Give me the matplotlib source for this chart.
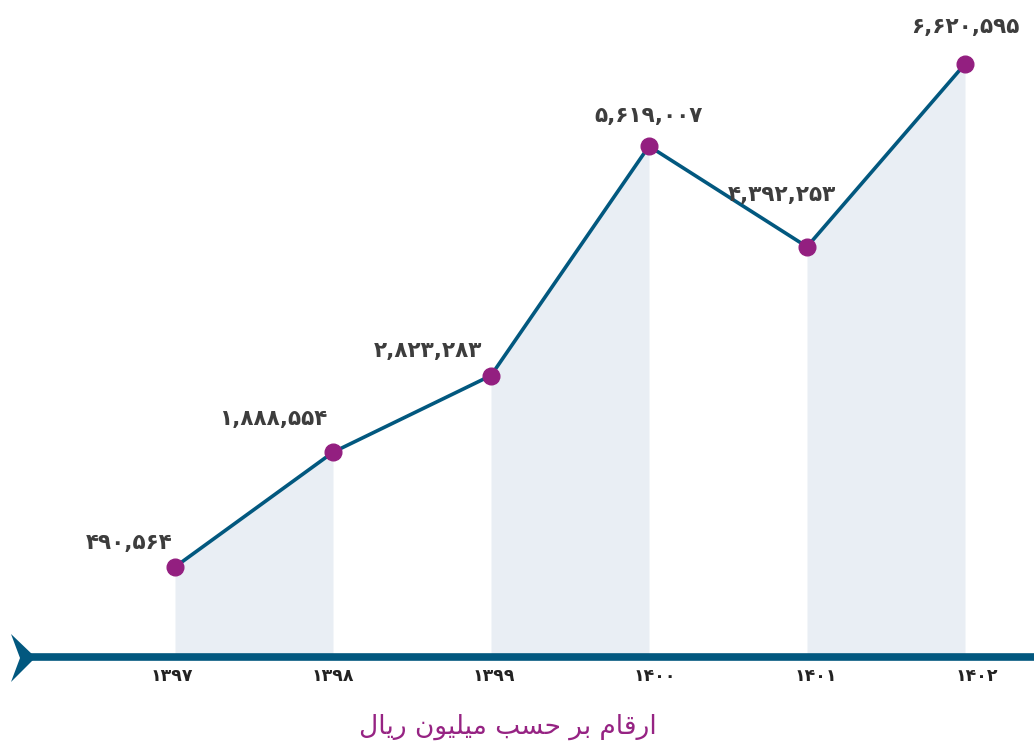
import numpy as np
import matplotlib.pyplot as plt
from matplotlib.patches import Polygon

# data
years = ['1397', '1398', '1399', '1400', '1401', '1402']
values = [490564, 1888554, 2823283, 5619007, 4392253, 6620595]
title = 'ارقام بر حسب میلیون ریال'

line_color = '#02587f'
dot_color = '#931f80'
fill_color = '#e9eef4'

fa_digits = str.maketrans('0123456789', '۰۱۲۳۴۵۶۷۸۹')

# minimal arabic shaping (matplotlib has no RTL / joining support)
forms = {
    'ا': ('\ufe8d', '\ufe8e', None, None),
    'ر': ('\ufead', '\ufeae', None, None),
    'و': ('\ufeed', '\ufeee', None, None),
    'ق': ('\ufed5', '\ufed6', '\ufed7', '\ufed8'),
    'م': ('\ufee1', '\ufee2', '\ufee3', '\ufee4'),
    'ب': ('\ufe8f', '\ufe90', '\ufe91', '\ufe92'),
    'ح': ('\ufea1', '\ufea2', '\ufea3', '\ufea4'),
    'س': ('\ufeb1', '\ufeb2', '\ufeb3', '\ufeb4'),
    'ی': ('\ufbfc', '\ufbfd', '\ufbfe', '\ufbff'),
    'ل': ('\ufedd', '\ufede', '\ufedf', '\ufee0'),
    'ن': ('\ufee5', '\ufee6', '\ufee7', '\ufee8'),
}


def shape(text):
    out = []
    for i, ch in enumerate(text):
        if ch not in forms:
            out.append(ch)
            continue
        prev = text[i - 1] if i > 0 else ' '
        nxt = text[i + 1] if i + 1 < len(text) else ' '
        join_prev = prev in forms and forms[prev][2] is not None
        join_next = nxt in forms and forms[ch][2] is not None
        iso, fin, ini, med = forms[ch]
        if join_prev and join_next:
            out.append(med)
        elif join_prev:
            out.append(fin)
        elif join_next:
            out.append(ini)
        else:
            out.append(iso)
    return ''.join(out)[::-1]


x = np.arange(len(years))
v = np.array(values) / 1e6

W, H = 1034, 742
fig = plt.figure(figsize=(W / 100, H / 100), dpi=100)
base_px = 657
ymin, ymax = -0.607, 7.40
ax = fig.add_axes([0, (H - base_px) / H, 1, base_px / H])
ax.set_xlim(-175 / 158, (W - 175) / 158)
ax.set_ylim(ymin, ymax)
ax.axis('off')

# shaded areas under alternating segments
for i in (0, 2, 4):
    ax.fill_between(x[i:i + 2], ymin, v[i:i + 2], color=fill_color, lw=0, zorder=1)

ax.plot(x, v, color=line_color, lw=2.6, zorder=3)
ax.plot(x, v, 'o', color=dot_color, ms=12, zorder=4)

# value labels
offsets = [(-46, 24), (-60, 33), (-63, 25), (0, 30), (-25, 52), (0, 37)]
for xi, vi, val, (dx, dy) in zip(x, v, values, offsets):
    ax.annotate(f'{val:,}'.translate(fa_digits), (xi, vi), xytext=(dx, dy),
                textcoords='offset pixels', ha='center', va='center',
                fontsize=15.5, fontweight='bold', color='#3d3d3d', zorder=5,
                annotation_clip=False)

# axis line with arrow tail
fig.add_artist(plt.Line2D([28 / W, 1], [(H - base_px) / H] * 2,
                          color=line_color, lw=5.5))
tail = [(11, 634), (34, 656), (34, 659), (11, 682), (20, 658)]
fig.add_artist(Polygon([(px / W, (H - py) / H) for px, py in tail],
                       closed=True, color=line_color, lw=0))

# year labels
for i, yr in enumerate(years):
    fig.text((172 + 161 * i) / W, (H - 676) / H, yr.translate(fa_digits),
             ha='center', va='center', fontsize=12.5, fontweight='bold',
             color='#222222')

fig.text(508 / W, (H - 727) / H, shape(title), ha='center', va='center',
         fontsize=19, color='#962383')

plt.savefig('out.png', dpi=100)
